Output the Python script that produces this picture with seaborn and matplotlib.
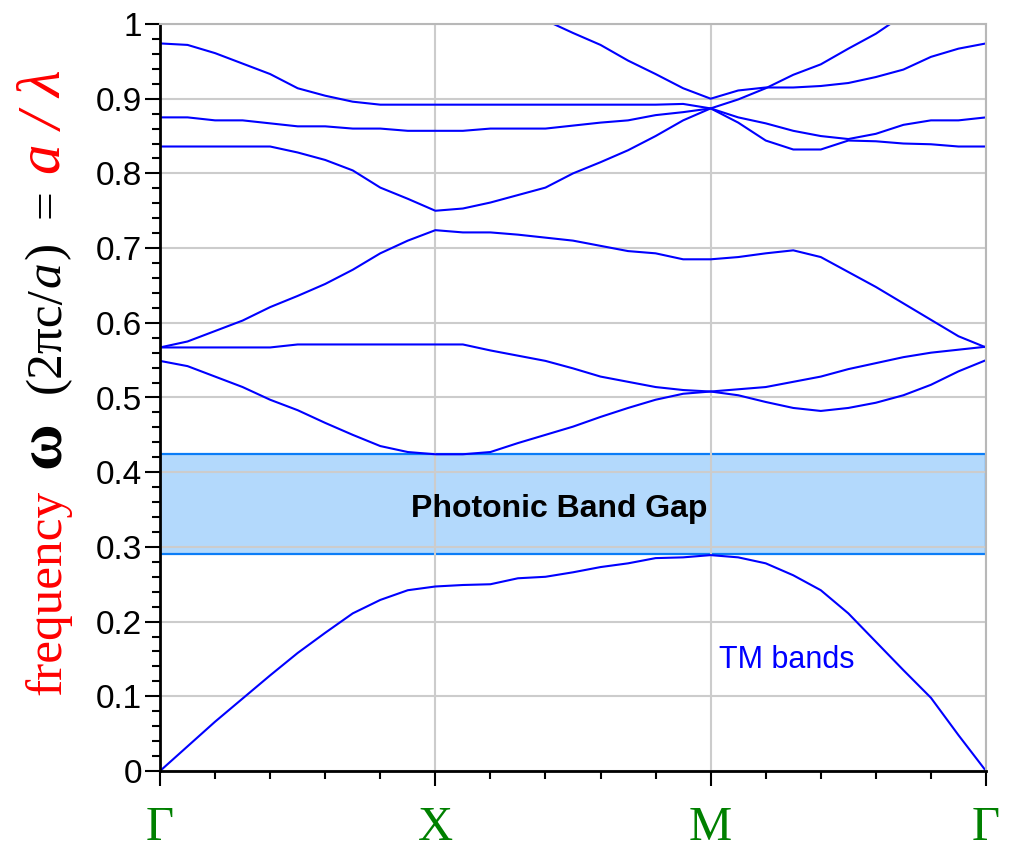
import numpy as np
import pandas as pd
import seaborn as sns
import matplotlib.pyplot as plt
from matplotlib.patches import Rectangle
from matplotlib.ticker import MultipleLocator

nan = np.nan

# k-path: Γ -> X -> M -> Γ, 10 steps per segment
k = np.round(np.arange(31) * 0.1, 1)
k_ticks = [0, 1, 2, 3]
k_labels = ['Γ', 'X', 'M', 'Γ']
y_ticks = [0, 0.1, 0.2, 0.3, 0.4, 0.5, 0.6, 0.7, 0.8, 0.9, 1.0]
y_labels = ['0', '0.1', '0.2', '0.3', '0.4', '0.5', '0.6', '0.7', '0.8', '0.9', '1']

# TM bands
band1 = [0.0, 0.033, 0.066, 0.097, 0.128, 0.158, 0.185, 0.211, 0.229, 0.242, 0.247,
         0.249, 0.250, 0.258, 0.260, 0.266, 0.273, 0.278, 0.285, 0.286, 0.289,
         0.286, 0.278, 0.262, 0.242, 0.211, 0.173, 0.135, 0.098, 0.048, 0.0]
band2 = [0.549, 0.542, 0.528, 0.514, 0.497, 0.483, 0.466, 0.450, 0.435, 0.427, 0.424,
         0.424, 0.427, 0.439, 0.450, 0.461, 0.474, 0.486, 0.497, 0.505, 0.508,
         0.503, 0.494, 0.486, 0.482, 0.486, 0.493, 0.503, 0.517, 0.535, 0.550]
band3 = [0.567, 0.567, 0.567, 0.567, 0.567, 0.571, 0.571, 0.571, 0.571, 0.571, 0.571,
         0.571, 0.563, 0.556, 0.549, 0.539, 0.528, 0.521, 0.514, 0.510, 0.508,
         0.511, 0.514, 0.521, 0.528, 0.538, 0.546, 0.554, 0.560, 0.564, 0.568]
band4 = [0.567, 0.575, 0.589, 0.603, 0.621, 0.636, 0.652, 0.671, 0.693, 0.710, 0.724,
         0.721, 0.721, 0.718, 0.714, 0.710, 0.703, 0.696, 0.693, 0.685, 0.685,
         0.688, 0.693, 0.697, 0.688, 0.668, 0.648, 0.626, 0.604, 0.582, 0.567]
band5 = [0.836, 0.836, 0.836, 0.836, 0.836, 0.828, 0.818, 0.804, 0.781, 0.766, 0.750,
         0.753, 0.761, 0.771, 0.781, 0.800, 0.815, 0.831, 0.850, 0.871, 0.887,
         0.868, 0.844, 0.832, 0.832, 0.844, 0.843, 0.840, 0.839, 0.836, 0.836]
band6 = [0.875, 0.875, 0.871, 0.871, 0.867, 0.863, 0.863, 0.860, 0.860, 0.857, 0.857,
         0.857, 0.860, 0.860, 0.860, 0.864, 0.868, 0.871, 0.878, 0.882, 0.887,
         0.875, 0.867, 0.857, 0.850, 0.846, 0.853, 0.865, 0.871, 0.871, 0.875]
band7 = [0.974, 0.972, 0.961, 0.947, 0.933, 0.914, 0.904, 0.896, 0.892, 0.892, 0.892,
         0.892, 0.892, 0.892, 0.892, 0.892, 0.892, 0.892, 0.892, 0.893, 0.887,
         0.899, 0.914, 0.932, 0.946, 0.967, 0.987, 1.012, nan, nan, nan]
band8 = [nan, nan, nan, nan, nan, nan, nan, nan, nan, nan, nan,
         nan, nan, nan, 1.005, 0.988, 0.972, 0.951, 0.933, 0.914, 0.900,
         0.911, 0.915, 0.915, 0.917, 0.921, 0.929, 0.939, 0.956, 0.967, 0.974]

gap_low = 0.2905
gap_high = 0.4244

bands = [band1, band2, band3, band4, band5, band6, band7, band8]
df = pd.concat([pd.DataFrame({'k': k, 'freq': b, 'band': i})
                for i, b in enumerate(bands, 1)], ignore_index=True)

sns.set_style('ticks')
plt.rcParams['font.family'] = ['Liberation Sans', 'DejaVu Sans']

fig = plt.figure(figsize=(10.09, 8.55), dpi=100)
ax = fig.add_axes([160 / 1009, 1 - 771 / 855, 826 / 1009, 747 / 855])

# band gap box
ax.add_patch(Rectangle((0, gap_low), 3, gap_high - gap_low, facecolor='#b3d9fc',
                       edgecolor='#0b7df7', lw=1.6, zorder=0.4))

sns.lineplot(data=df, x='k', y='freq', units='band', estimator=None, sort=False,
             color='#0000ff', lw=1.5, legend=False, ax=ax)

ax.set_xlim(0, 3)
ax.set_ylim(0, 1)
ax.set_xlabel('')
ax.set_ylabel('')
ax.set_xticks(k_ticks)
ax.set_xticklabels(k_labels, family='Liberation Serif', color='green', fontsize=35)
ax.set_yticks(y_ticks)
ax.set_yticklabels(y_labels, fontsize=24, color='black')
ax.xaxis.set_minor_locator(MultipleLocator(0.2))
ax.yaxis.set_minor_locator(MultipleLocator(0.02))
ax.set_axisbelow(True)
ax.grid(True, which='major', color='#cccccc', lw=1.5)
ax.tick_params(which='major', direction='out', length=11, width=1.5, color='black')
ax.tick_params(which='minor', direction='out', length=5.5, width=1.5, color='black')
ax.tick_params(axis='x', which='major', pad=14)
ax.tick_params(axis='y', which='major', pad=2)
for side in ['left', 'bottom']:
    ax.spines[side].set_color('black')
    ax.spines[side].set_linewidth(2)
for side in ['top', 'right']:
    ax.spines[side].set_color('#b8b8b8')
    ax.spines[side].set_linewidth(1.5)

ax.text(1.45, 0.340, 'Photonic Band Gap', ha='center', va='baseline', fontsize=23,
        fontweight='bold', color='black', zorder=3)
ax.text(2.275, 0.138, 'TM bands', ha='center', va='baseline', fontsize=22,
        color='#0000ff', zorder=3)

# multi-coloured y label, stacked piece by piece
fig.canvas.draw()
renderer = fig.canvas.get_renderer()
pieces = [
    ('frequency', dict(color='red', fontsize=37), 22),
    ('ω', dict(color='black', fontweight='bold', fontsize=46), 28),
    ('(2πc/', dict(color='black', fontsize=37), 0),
    ('a', dict(color='black', fontstyle='italic', fontsize=37), 2),
    (')', dict(color='black', fontsize=37), 24),
    ('=', dict(color='black', fontsize=37), 15),
    ('a / λ', dict(color='red', fontstyle='italic', fontsize=44), 0),
]
ypos = (855 - 695) / 855
for s, kw, gap in pieces:
    t = fig.text(60 / 1009, ypos, s, rotation=90, rotation_mode='anchor', ha='left',
                 va='baseline', family='Liberation Serif', **kw)
    bb = t.get_window_extent(renderer)
    ypos += (bb.height + gap) / 855

plt.savefig('out.png', dpi=100)
